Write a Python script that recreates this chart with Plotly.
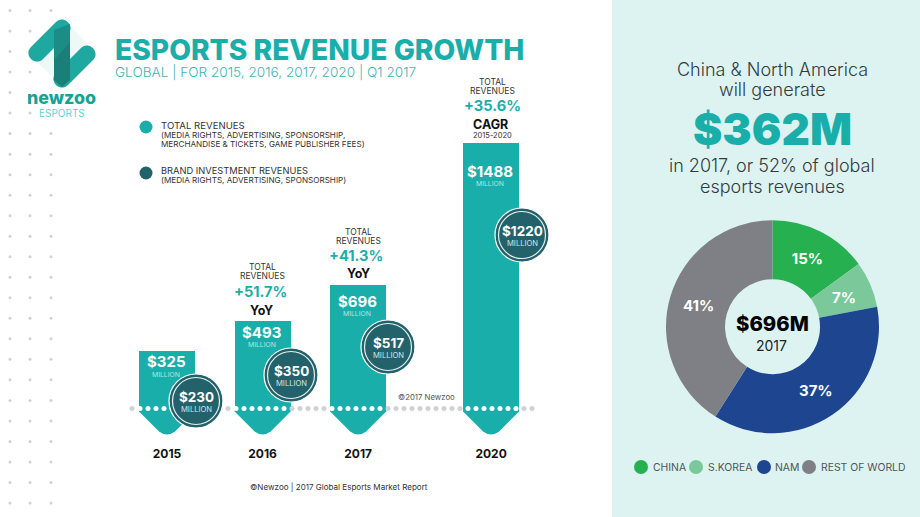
#!/usr/bin/env python3
"""Esports revenue growth infographic, rebuilt with Plotly."""

import plotly.graph_objects as go

# --- Data ---
years = ["2015", "2016", "2017", "2020"]
total_revenues = [325, 493, 696, 1488]
brand_revenues = [230, 350, 517, 1220]
growth_labels = ["+51.7%", "+41.3%", "+35.6%"]
regions = ["CHINA", "S.KOREA", "NAM", "REST OF WORLD"]
region_shares = [15, 7, 37, 41]

# --- Layout constants (pixels on the 920x517 page) ---
W, H = 920, 517
PANEL_X = 612
FONT = "Inter"
TEAL = "#1aaeaa"
DARK = "#23626a"
REGION_COLORS = ["#27b04f", "#7bc99a", "#1e4690", "#7e8085"]

BAR_SLOTS = [0, 1, 2, 3.39]
SLOT_PX = 95.6
SLOT0_PX = 167
BASE_PX = 408.5
UNIT_PX = 0.1781
AXIS_BOTTOM_PX = 445
BAR_PX = 56

BADGE_X = [196, 291, 388, 522]
BADGE_Y = [401, 375, 347, 235]
BAR_LABEL_Y = [361.5, 332, 301, 171]

annotations = []
shapes = []


def label(x, y, text, size, color="#333333", weight=400, anchor="center"):
    annotations.append(dict(
        x=x, y=y, xref="x2", yref="y2", text=text, showarrow=False,
        xanchor=anchor, yanchor="middle", borderpad=0,
        font=dict(family=FONT, size=size, color=color, weight=weight),
    ))


def capsule(x0, y0, x1, y1, w, color):
    """Rounded stroke between two points, as a filled path."""
    dx, dy = x1 - x0, y1 - y0
    n = (dx ** 2 + dy ** 2) ** 0.5
    ux, uy = dx / n, dy / n
    nx, ny = -uy * w / 2, ux * w / 2
    ex, ey = ux * w * 0.66, uy * w * 0.66
    path = (f"M{x0 + nx},{y0 + ny} L{x1 + nx},{y1 + ny} "
            f"C{x1 + nx + ex},{y1 + ny + ey} {x1 - nx + ex},{y1 - ny + ey} {x1 - nx},{y1 - ny} "
            f"L{x0 - nx},{y0 - ny} "
            f"C{x0 - nx - ex},{y0 - ny - ey} {x0 + nx - ex},{y0 + ny - ey} {x0 + nx},{y0 + ny} Z")
    shapes.append(dict(type="path", path=path, xref="x2", yref="y2", fillcolor=color,
                       line=dict(width=0), layer="above"))


def poly(points, color):
    path = "M" + " L".join(f"{x},{y}" for x, y in points) + " Z"
    shapes.append(dict(type="path", path=path, xref="x2", yref="y2", fillcolor=color,
                       line=dict(width=0), layer="above"))


fig = go.Figure()

# --- Right panel ---
shapes.append(dict(type="rect", xref="paper", yref="paper", x0=PANEL_X / W, x1=1, y0=0, y1=1,
                   fillcolor="#ddf3f2", line=dict(width=0), layer="below"))

# --- Revenue bars, arrow tips hang below the zero line ---
half = BAR_PX / 2
for slot in BAR_SLOTS:
    shapes.append(dict(
        type="path", xref="x", yref="y", xsizemode="pixel", ysizemode="pixel",
        xanchor=slot, yanchor=0, layer="below", fillcolor=TEAL, line=dict(width=0),
        path=f"M{-half},1 L{-half},-3 L-8,-23 Q0,-29 8,-23 L{half},-3 L{half},1 Z",
    ))

fig.add_trace(go.Bar(
    x=BAR_SLOTS, y=total_revenues, width=BAR_PX / SLOT_PX,
    marker=dict(color=TEAL, line=dict(width=0)), hoverinfo="skip", xaxis="x", yaxis="y",
))

# --- Dotted base line, white where it crosses a bar ---
dot_x = list(range(132, 533, 8))
bar_spans = [(SLOT0_PX + s * SLOT_PX - half, SLOT0_PX + s * SLOT_PX + half) for s in BAR_SLOTS]
dot_colors = ["#ffffff" if any(a < x < b for a, b in bar_spans) else "#d2d2d4" for x in dot_x]
fig.add_trace(go.Scatter(
    x=dot_x, y=[BASE_PX] * len(dot_x), mode="markers",
    marker=dict(size=5, color=dot_colors), hoverinfo="skip", xaxis="x2", yaxis="y2",
))

# --- Background dot grid, a few dots are left out behind the logo ---
skip = {(51, 1), (30, 2), (51, 2), (51, 3), (30, 4), (51, 4), (51, 5)}
grid_x, grid_y = [], []
for r in range(25):
    for x in (10, 30, 51):
        if (x, r) not in skip:
            grid_x.append(x)
            grid_y.append(10.5 + 20.52 * r)
fig.add_trace(go.Scatter(
    x=grid_x, y=grid_y, mode="markers", marker=dict(size=3, color="#cfd3d4"),
    hoverinfo="skip", xaxis="x2", yaxis="y2",
))

# --- Brand investment badges ---
fig.add_trace(go.Scatter(
    x=BADGE_X, y=BADGE_Y, mode="markers",
    marker=dict(size=54, color=DARK, line=dict(width=1.2, color="#ffffff")),
    hoverinfo="skip", xaxis="x2", yaxis="y2",
))
fig.add_trace(go.Scatter(
    x=BADGE_X, y=BADGE_Y, mode="markers",
    marker=dict(size=47, color=DARK, line=dict(width=1.2, color="#e4f1f1")),
    hoverinfo="skip", xaxis="x2", yaxis="y2",
))

for i, val in enumerate(total_revenues):
    cx = SLOT0_PX + BAR_SLOTS[i] * SLOT_PX - 1
    label(cx, BAR_LABEL_Y[i], f"${val}", 15, "#ffffff", 700)
    label(cx, BAR_LABEL_Y[i] + 12.5, "MILLION", 6.8, "#b5e6e4")

for i, val in enumerate(brand_revenues):
    label(BADGE_X[i], BADGE_Y[i] - 4, f"${val}", 13.5, "#ffffff", 700)
    label(BADGE_X[i], BADGE_Y[i] + 8, "MILLION", 7.6, "#cfe4e4")

# --- Growth callouts above bars ---
label(262, 266.5, "TOTAL", 8.5, "#333333")
label(262, 276, "REVENUES", 8.5, "#333333")
label(260, 291.5, growth_labels[0], 14.6, TEAL, 700)
label(261, 310, "YoY", 12.5, "#111111", 700)
label(358, 232, "TOTAL", 8.5, "#333333")
label(358, 241, "REVENUES", 8.5, "#333333")
label(356, 256, growth_labels[1], 14.6, TEAL, 700)
label(358, 273.5, "YoY", 12.5, "#111111", 700)
label(492, 82, "TOTAL", 8.5, "#333333")
label(492, 91, "REVENUES", 8.5, "#333333")
label(492, 106, growth_labels[2], 14.6, TEAL, 700)
label(490, 124, "CAGR", 12.5, "#111111", 700)
label(492.5, 135, "2015-2020", 7.5, "#333333")

# --- Titles ---
label(114, 49.5, "ESPORTS REVENUE GROWTH", 28.2, TEAL, 800, "left")
label(114, 72, "GLOBAL | FOR 2015, 2016, 2017, 2020 | Q1 2017", 13.6, "#3fb5b2", 300, "left")

# --- Key ---
fig.add_trace(go.Scatter(
    x=[146, 146], y=[127, 173], mode="markers",
    marker=dict(size=13, color=[TEAL, DARK]), hoverinfo="skip", xaxis="x2", yaxis="y2",
))
label(160, 125, "TOTAL REVENUES", 9.6, "#333333", 400, "left")
label(160, 134.5, "(MEDIA RIGHTS, ADVERTISING, SPONSORSHIP,", 8.15, "#333333", 400, "left")
label(160, 144, "MERCHANDISE &amp; TICKETS, GAME PUBLISHER FEES)", 8.15, "#333333", 400, "left")
label(160, 170.5, "BRAND INVESTMENT REVENUES", 9.3, "#333333", 400, "left")
label(160, 180, "(MEDIA RIGHTS, ADVERTISING, SPONSORSHIP)", 8.15, "#333333", 400, "left")

label(397, 396.5, "©2017 Newzoo", 7.8, "#555555", 400, "left")
label(338.5, 487, "©Newzoo | 2017 Global Esports Market Report", 8.05, "#333333")

# --- Logo ---
poly([(70, 26), (92, 48), (70, 70)], "#eef8f7")
poly([(54, 78), (32, 58), (54, 36)], "#eef8f7")
capsule(37, 53, 62, 28, 17, "#1fa89f")
capsule(62, 79, 87, 54, 17, "#1fa89f")
poly([(54, 30), (70, 24), (70, 60), (54, 60)], "#1c8d86")
poly([(54, 60), (70, 42), (70, 80), (62, 87), (54, 80)], "#1a7f79")
label(61.5, 97.5, "newzoo", 17.8, "#16a394", 800)
label(61.5, 112.5, "ESPORTS", 10, "#63d3cf", 400)

# --- Right panel text ---
label(772, 69, "China &amp; North America", 18, "#333b40", 300)
label(772, 89.5, "will generate", 18, "#333b40", 300)
label(772, 129, "$362M", 44, TEAL, 900)
label(772, 165.5, "in 2017, or 52% of global", 18, "#333b40", 300)
label(772, 186, "esports revenues", 18, "#333b40", 300)

# --- Donut ---
# the narrow S.Korea slice keeps its label further in than the automatic spot
pie_text = [f"{v}%" if r != "S.KOREA" else "" for r, v in zip(regions, region_shares)]
fig.add_trace(go.Pie(
    labels=regions, values=region_shares, text=pie_text,
    textinfo="text", textposition="inside", insidetextorientation="horizontal",
    textfont=dict(family=FONT, size=15, color="#ffffff", weight=700),
    marker=dict(colors=REGION_COLORS, line=dict(width=0)),
    hole=0.446, sort=False, direction="clockwise", rotation=0, hoverinfo="skip",
    domain=dict(x=[666 / W, 879 / W], y=[1 - 433.2 / H, 1 - 220.2 / H]),
))
label(843.5, 297, f"{region_shares[1]}%", 15, "#ffffff", 700)
label(772, 323, "$696M", 20.3, "#000000", 800)
label(771.5, 345, "2017", 14, "#222222")

# --- Donut key ---
key_x = [641, 696, 764, 809]
key_text_x = [652, 707, 774, 819.5]
fig.add_trace(go.Scatter(
    x=key_x, y=[467] * 4, mode="markers", marker=dict(size=14, color=REGION_COLORS),
    hoverinfo="skip", xaxis="x2", yaxis="y2",
))
for name, tx in zip(regions, key_text_x):
    label(tx, 467.5, name, 10.4, "#4f5558", 400, "left")

fig.update_layout(
    width=W, height=H, margin=dict(l=0, r=0, t=0, b=0), autosize=False,
    paper_bgcolor="#ffffff", plot_bgcolor="rgba(0,0,0,0)", showlegend=False,
    bargap=0, annotations=annotations, shapes=shapes,
    xaxis=dict(
        domain=[0, PANEL_X / W], anchor="y", showgrid=False, zeroline=False, showline=False,
        range=[-SLOT0_PX / SLOT_PX, (PANEL_X - SLOT0_PX) / SLOT_PX],
        tickmode="array", tickvals=BAR_SLOTS, ticktext=years, ticks="",
        tickfont=dict(family=FONT, size=12, color="#111111", weight=700),
    ),
    yaxis=dict(
        domain=[1 - AXIS_BOTTOM_PX / H, 1], anchor="x", visible=False, showgrid=False, zeroline=False,
        range=[-(AXIS_BOTTOM_PX - BASE_PX) / UNIT_PX, BASE_PX / UNIT_PX],
    ),
    xaxis2=dict(domain=[0, 1], anchor="y2", visible=False, range=[0, W]),
    yaxis2=dict(domain=[0, 1], anchor="x2", visible=False, range=[H, 0]),
)

# browsers add an 8px body margin, the page has to sit flush with the window
fig.write_html("out.html", config={"displayModeBar": False},
               post_script="document.body.style.margin='0';")
